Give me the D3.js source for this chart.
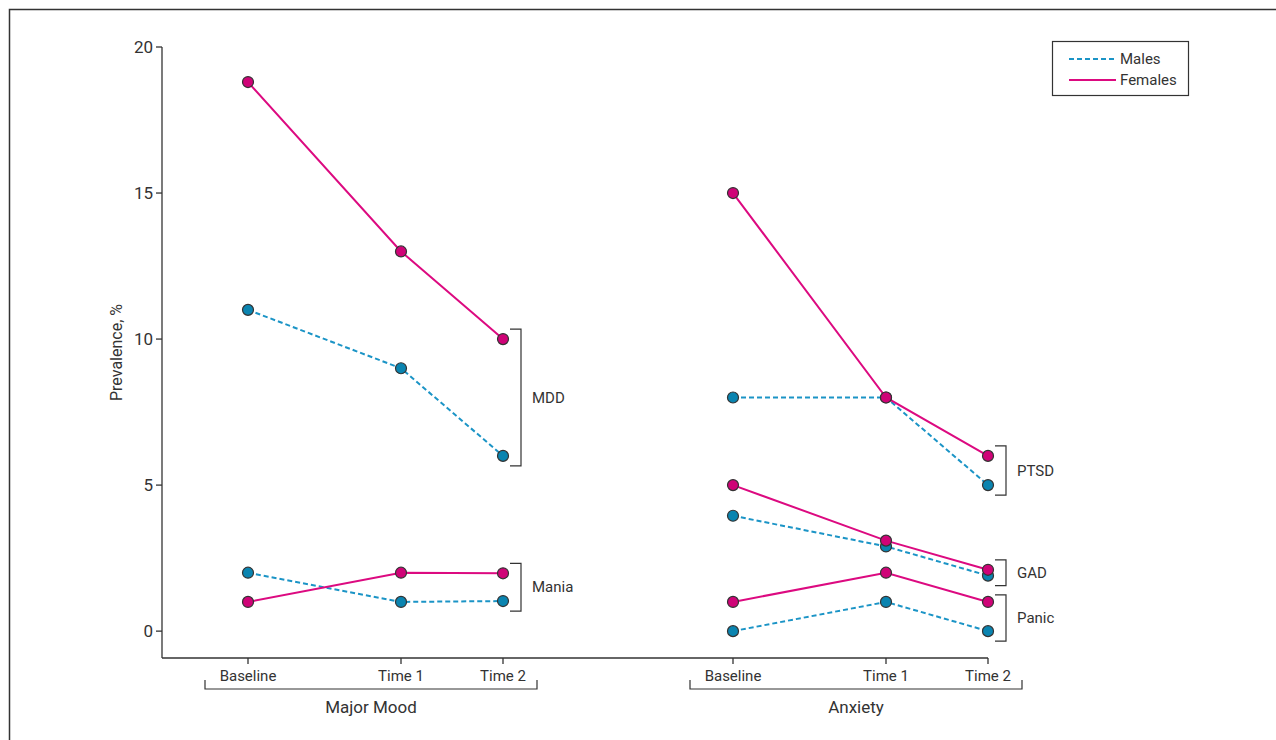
<!DOCTYPE html>
<html>
<head>
<meta charset="utf-8">
<script src="https://cdn.jsdelivr.net/npm/d3@7"></script>
<style>
  body { margin: 0; background: #fff; }
  svg { display: block; font-family: "Liberation Sans Narrow", "Arial Narrow", "Roboto", sans-serif; }
  .tick-label { font-size: 15px; fill: #333; }
</style>
</head>
<body>
<svg id="chart" width="1276" height="740"></svg>
<script>
// --- data ---
const panels = ["Major Mood", "Anxiety"];
const timeLabels = ["Baseline", "Time 1", "Time 2"];
const timeYears = [0, 3, 5];
const yTicks = [0, 5, 10, 15, 20];

const disorderNames = ["MDD", "Mania", "PTSD", "GAD", "Panic"];
const disorderPanel = ["Major Mood", "Major Mood", "Anxiety", "Anxiety", "Anxiety"];
const malesValues = [[11, 9, 6], [2, 1, 1.03], [8, 8, 5], [3.95, 2.9, 1.9], [0, 1, 0]];
const femalesValues = [[18.8, 13, 10], [1, 2, 1.98], [15, 8, 6], [5, 3.1, 2.1], [1, 2, 1]];

const series = [
  { name: "Males", values: malesValues, line: "#1b94c6", dot: "#0a84b0", dash: "5,3" },
  { name: "Females", values: femalesValues, line: "#dc0a80", dot: "#cf0377", dash: null }
];

const svg = d3.select("#chart");
const ink = "#333";

// frame
svg.append("rect").attr("x", 9.5).attr("y", 9.5).attr("width", 1400).attr("height", 900)
  .attr("fill", "none").attr("stroke", ink).attr("stroke-width", 1.5);

// scales
const y = d3.scaleLinear().domain([-0.92, 20]).range([658, 47]);
const panelX = d3.scalePoint().domain(panels).range([248, 733]);
const t = d3.scaleLinear().domain([0, 5]).range([0, 255]);
const px = (panel, i) => panelX(panel) + t(timeYears[i]);

// y axis
const yAxis = svg.append("g").attr("transform", "translate(162,0)");
yAxis.append("line").attr("y1", y(20)).attr("y2", y.range()[0]).attr("stroke", ink).attr("stroke-width", 1.3);
yTicks.forEach(v => {
  yAxis.append("line").attr("x1", -6).attr("x2", 0).attr("y1", y(v)).attr("y2", y(v)).attr("stroke", ink).attr("stroke-width", 1.3);
  yAxis.append("text").attr("x", -9).attr("y", y(v)).attr("dy", "0.35em").attr("text-anchor", "end")
    .attr("font-size", 17).attr("fill", ink).text(v);
});
svg.append("text").attr("transform", `translate(122,${(y(20) + y.range()[0]) / 2}) rotate(-90)`)
  .attr("text-anchor", "middle").attr("font-size", 16).attr("fill", ink).text("Prevalence, %");

// x axis
const axisY = y.range()[0];
svg.append("line").attr("x1", 162).attr("x2", px("Anxiety", 2)).attr("y1", axisY).attr("y2", axisY)
  .attr("stroke", ink).attr("stroke-width", 1.3);
panels.forEach(p => {
  timeLabels.forEach((lab, i) => {
    svg.append("line").attr("x1", px(p, i)).attr("x2", px(p, i)).attr("y1", axisY).attr("y2", axisY + 6)
      .attr("stroke", ink).attr("stroke-width", 1.3);
    svg.append("text").attr("class", "tick-label").attr("x", px(p, i)).attr("y", axisY + 23)
      .attr("text-anchor", "middle").text(lab);
  });
  const x0 = px(p, 0) - 43, x1 = px(p, 2) + 34;
  svg.append("path").attr("d", `M${x0},680V689H${x1}V680`).attr("fill", "none").attr("stroke", ink).attr("stroke-width", 1.2);
  svg.append("text").attr("x", (x0 + x1) / 2).attr("y", 713).attr("text-anchor", "middle")
    .attr("font-size", 17).attr("fill", ink).text(p);
});

// lines and dots
const line = d3.line().x(d => d.x).y(d => y(d.v));
series.forEach(s => {
  s.values.forEach((vals, k) => {
    const pts = vals.map((v, i) => ({ x: px(disorderPanel[k], i), v }));
    svg.append("path").attr("d", line(pts)).attr("fill", "none").attr("stroke", s.line)
      .attr("stroke-width", 2).attr("stroke-dasharray", s.dash);
  });
});
series.forEach(s => {
  s.values.forEach((vals, k) => {
    svg.append("g").selectAll("circle").data(vals).join("circle")
      .attr("cx", (v, i) => px(disorderPanel[k], i)).attr("cy", v => y(v)).attr("r", 5.5)
      .attr("fill", s.dot).attr("stroke", "#333").attr("stroke-width", 1.2);
  });
});

// brackets
disorderNames.forEach((name, k) => {
  const all = malesValues[k].concat(femalesValues[k]).slice();
  const lastVals = [malesValues[k][2], femalesValues[k][2]];
  const top = y(d3.max(lastVals)) - 10, bot = y(d3.min(lastVals)) + 10;
  const bx = px(disorderPanel[k], 2) + 18;
  const topP = name === "Panic" ? top + 3 : top;
  svg.append("path").attr("d", `M${bx - 11},${topP}H${bx}V${bot}H${bx - 11}`)
    .attr("fill", "none").attr("stroke", ink).attr("stroke-width", 1.2);
  svg.append("text").attr("x", bx + 11).attr("y", (topP + bot) / 2).attr("dy", "0.35em")
    .attr("font-size", 15).attr("fill", ink).text(name);
});

// legend
const lg = svg.append("g").attr("transform", "translate(1052,41)");
lg.append("rect").attr("x", 0.5).attr("y", 0.5).attr("width", 136).attr("height", 54)
  .attr("fill", "#fff").attr("stroke", ink).attr("stroke-width", 1.2);
series.forEach((s, i) => {
  const ly = 18 + i * 21;
  lg.append("line").attr("x1", 17).attr("x2", 64).attr("y1", ly).attr("y2", ly)
    .attr("stroke", s.line).attr("stroke-width", 2).attr("stroke-dasharray", s.dash);
  lg.append("text").attr("x", 68).attr("y", ly).attr("dy", "0.35em").attr("font-size", 15).attr("fill", ink).text(s.name);
});
</script>
</body>
</html>
